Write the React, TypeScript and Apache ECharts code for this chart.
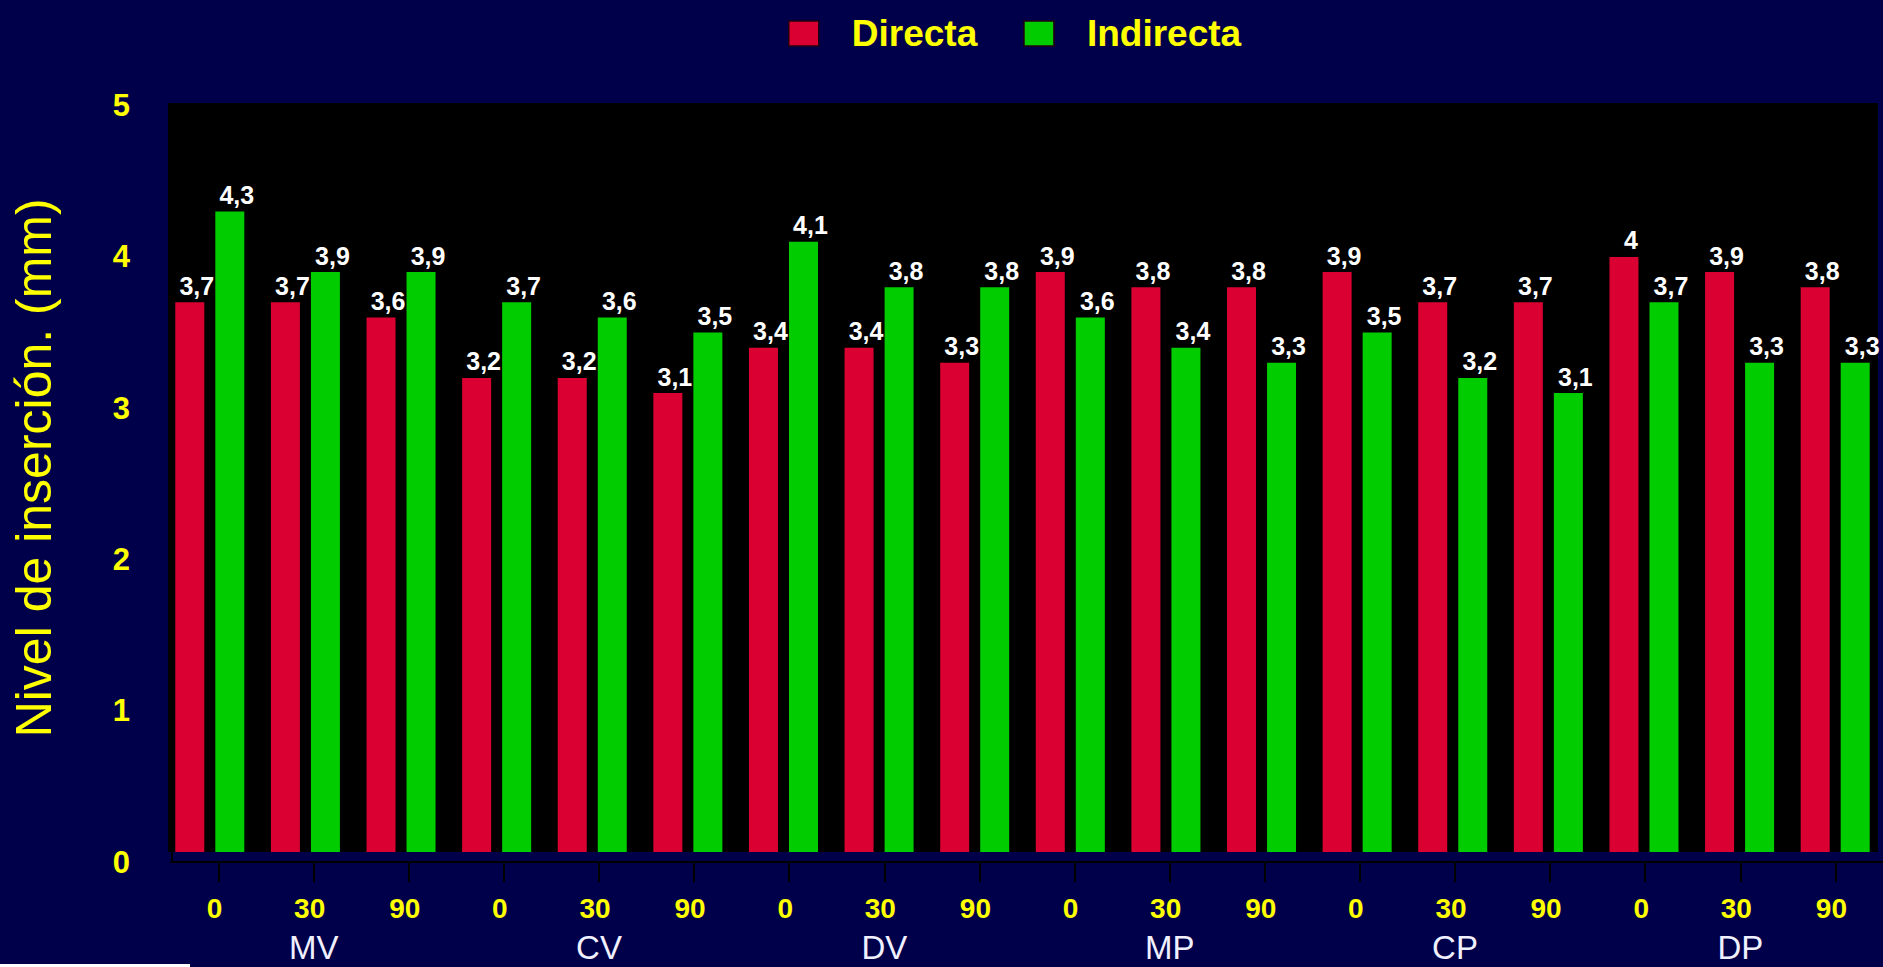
import React, { useEffect, useRef } from "react";
import * as echarts from "echarts";

const groups = ["MV", "CV", "DV", "MP", "CP", "DP"];
const angles = ["0", "30", "90"];
const directa = [3.7, 3.7, 3.6, 3.2, 3.2, 3.1, 3.4, 3.4, 3.3, 3.9, 3.8, 3.8, 3.9, 3.7, 3.7, 4, 3.9, 3.8];
const indirecta = [4.3, 3.9, 3.9, 3.7, 3.6, 3.5, 4.1, 3.8, 3.8, 3.6, 3.4, 3.3, 3.5, 3.2, 3.1, 3.7, 3.3, 3.3];
const yTicks = [0, 1, 2, 3, 4, 5];

const FONT = "Arial, 'Liberation Sans', Helvetica, sans-serif";
const NAVY = "#00004A";
const YELLOW = "#FFFF00";
const RED = "#DA0032";
const GREEN = "#00CC00";

export default function App() {
  const ref = useRef<HTMLDivElement>(null);
  useEffect(() => {
    if (!ref.current) return;
    const chart = echarts.init(ref.current, undefined, { renderer: "svg" });
    const cats: string[] = [];
    const tickLabels: string[] = [];
    const groupLabels: string[] = [];
    groups.forEach((g) => {
      angles.forEach((a, i) => {
        cats.push(g + "-" + a);
        tickLabels.push(a);
        groupLabels.push(i === 1 ? g : "");
      });
    });
    const fmt = (p: any) => String(p.value).replace(".", ",");
    const label = {
      show: true,
      position: "top",
      distance: 4,
      offset: [7, 0],
      color: "#FFFFFF",
      fontWeight: "bold",
      fontSize: 25,
      fontFamily: FONT,
      formatter: fmt,
    };
    chart.setOption({
      animation: false,
      backgroundColor: NAVY,
      graphic: [
        { type: "rect", z: -10, shape: { x: 168, y: 103, width: 1710, height: 749 }, style: { fill: "#000000" } },
        { type: "rect", z: 50, shape: { x: 150, y: 852, width: 1733, height: 11 }, style: { fill: NAVY } },
        { type: "line", z: 51, shape: { x1: 172, y1: 852, x2: 172, y2: 862 }, style: { stroke: "#000000", lineWidth: 2 } },
        { type: "rect", z: 51, shape: { x: 0, y: 964, width: 190, height: 3 }, style: { fill: "#FFFFFF" } },
      ],
      legend: {
        left: 783,
        top: 10,
        itemWidth: 30,
        itemHeight: 25,
        itemGap: 46,
        icon: "rect",
        data: ["Directa", "Indirecta"],
        itemStyle: { borderColor: "#200010", borderWidth: 1.5 },
        textStyle: { color: YELLOW, fontWeight: "bold", fontSize: 37, fontFamily: FONT, padding: [0, 0, 0, 28] },
      },
      grid: [
        { left: 162, right: 0, top: 105.7, bottom: 105 },
        { left: 171, right: -9, top: 105.7, bottom: 105 },
      ],
      xAxis: [
        { type: "category", gridIndex: 0, data: cats, show: false },
        {
          type: "category",
          gridIndex: 1,
          data: tickLabels,
          position: "bottom",
          z: 60,
          axisLine: { show: true, lineStyle: { color: "#000000", width: 2 } },
          axisTick: { show: true, alignWithLabel: true, length: 20, lineStyle: { color: "#000000", width: 2 } },
          axisLabel: { interval: 0, color: YELLOW, fontWeight: "bold", fontSize: 28, fontFamily: FONT, margin: 32, padding: [0, 8, 0, 0] },
          splitLine: { show: false },
        },
        {
          type: "category",
          gridIndex: 1,
          data: groupLabels,
          position: "bottom",
          z: 60,
          axisLine: { show: false },
          axisTick: { show: false },
          axisLabel: { interval: 0, color: "#F0F0FF", fontSize: 33, lineHeight: 28, fontFamily: FONT, margin: 71 },
          splitLine: { show: false },
        },
      ],
      yAxis: [
        {
          type: "value",
          gridIndex: 0,
          min: yTicks[0],
          max: yTicks[yTicks.length - 1],
          interval: 1,
          axisLine: { show: false },
          axisTick: { show: false },
          splitLine: { show: false },
          axisLabel: { color: YELLOW, fontWeight: "bold", fontSize: 31, fontFamily: FONT, margin: 32 },
          name: "Nivel de inserción. (mm)",
          nameLocation: "middle",
          nameGap: 103,
          nameTextStyle: { color: YELLOW, fontSize: 50, fontFamily: FONT, padding: [0, 0, 0, 32] },
        },
        { type: "value", gridIndex: 1, min: 0, max: 5, show: false },
      ],
      series: [
        {
          name: "Directa",
          type: "bar",
          xAxisIndex: 0,
          yAxisIndex: 0,
          data: directa,
          barWidth: 29,
          barGap: "38%",
          itemStyle: { color: RED },
          label,
        },
        {
          name: "Indirecta",
          type: "bar",
          xAxisIndex: 0,
          yAxisIndex: 0,
          data: indirecta,
          barWidth: 29,
          itemStyle: { color: GREEN },
          label,
        },
      ],
    });
    return () => chart.dispose();
  }, []);
  return <div ref={ref} style={{ position: "fixed", left: 0, top: 0, width: 1883, height: 967 }} />;
}
